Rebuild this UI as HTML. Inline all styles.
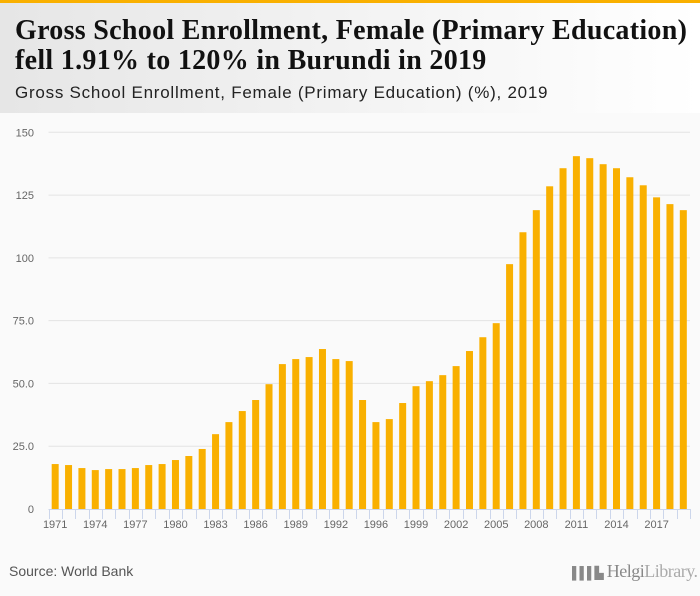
<!DOCTYPE html>
<html><head><meta charset="utf-8"><style>
html,body{margin:0;padding:0;width:700px;height:596px;overflow:hidden;background:#fafafa;font-family:"Liberation Sans",sans-serif}
#topbar{position:absolute;left:0;top:0;width:700px;height:3px;background:#f9b000}
#header{position:absolute;left:0;top:3px;width:700px;height:110px;background:linear-gradient(90deg,#e6e6e6 0%,#f4f4f4 55%,#ffffff 100%)}
#title{position:absolute;left:15px;top:13px;font-family:"Liberation Serif",serif;font-weight:bold;font-size:28px;line-height:30px;color:#111;letter-spacing:0.3px;white-space:nowrap}
#subtitle{position:absolute;left:15px;top:80px;font-size:17px;color:#222;letter-spacing:0.75px;white-space:nowrap}
#source{position:absolute;left:9px;top:563px;font-size:14px;color:#555}
#logo{position:absolute;left:572px;top:561px;font-family:"Liberation Serif",serif;font-size:18px;color:#888;letter-spacing:-0.5px;white-space:nowrap}
</style></head><body>
<div id="topbar"></div>
<div id="header">
<div id="title">Gross School Enrollment, Female (Primary Education)<br>fell 1.91% to 120% in Burundi in 2019</div>
<div id="subtitle">Gross School Enrollment, Female (Primary Education) (%), 2019</div>
</div>
<svg id="chart" width="700" height="596" style="position:absolute;left:0;top:0"></svg>
<div id="source">Source: World Bank</div>
<div id="logo"><span style="font-size:12px;letter-spacing:-1px">▌▌▌▙</span> Helgi<span style="color:#aaa">Library.</span></div>
<script>
const years=[1971,1972,1973,1974,1975,1976,1977,1978,1979,1980,1981,1982,1983,1984,1985,1986,1987,1988,1989,1990,1991,1992,1993,1994,1996,1997,1998,1999,2000,2001,2002,2003,2004,2005,2006,2007,2008,2009,2010,2011,2012,2013,2014,2015,2016,2017,2018,2019];
const values=[17.9,17.5,16.3,15.5,15.9,15.9,16.3,17.5,17.9,19.5,21.1,23.9,29.8,34.6,39.0,43.4,49.7,57.7,59.7,60.5,63.7,59.7,58.9,43.4,34.6,35.8,42.2,48.9,50.9,53.3,56.9,62.9,68.4,74.0,97.5,110.2,119.0,128.5,135.7,140.5,139.7,137.3,135.7,132.1,128.9,124.1,121.4,119.0];
const yTicks=[0,25,50,75,100,125,150];
const yTickLabels=["0","25.0","50.0","75.0","100","125","150"];
const xLabelEvery=3;
const NS="http://www.w3.org/2000/svg";
const svg=document.getElementById('chart');
const x0=48.5,x1=690,yBase=509,yTop=132.3,yMax=150;
const slot=(x1-x0)/years.length;
function yScale(v){return yBase-(v/yMax)*(yBase-yTop);}
function xCenter(i){return x0+slot*(i+0.5);}
function mk(t,a){const e=document.createElementNS(NS,t);for(const k in a)e.setAttribute(k,a[k]);svg.appendChild(e);return e;}
yTicks.forEach((t,i)=>{
  if(t>0){const g=mk('line',{x1:x0,x2:x1,y1:yScale(t),y2:yScale(t),stroke:'#e3e3e3','stroke-width':1});
  
  }
  const l=mk('text',{x:34,y:yScale(t)+4,'text-anchor':'end','font-size':11,fill:'#666','font-family':'Liberation Sans, sans-serif'});
  l.textContent=yTickLabels[i];
  
  
});
values.forEach((v,i)=>{
  const b=mk('rect',{x:xCenter(i)-3.5,y:yScale(v),width:7,height:yBase-yScale(v),fill:'#f9b000'});
  
  
});
const ax=mk('line',{x1:x0,x2:x1,y1:yBase+0.5,y2:yBase+0.5,stroke:'#ccd6eb','stroke-width':1});


for(let i=0;i<=years.length;i++){
  const tx=Math.round(x0+slot*i)+0.5;
  const tk=mk('line',{x1:tx,x2:tx,y1:yBase,y2:yBase+10,stroke:'#ccd6eb','stroke-width':1});
  
  
}
years.forEach((y,i)=>{
  if(i%xLabelEvery!==0)return;
  const l=mk('text',{x:xCenter(i),y:yBase+19,'text-anchor':'middle','font-size':11,fill:'#666','font-family':'Liberation Sans, sans-serif'});
  l.textContent=y;
  
  
});
</script>
</body></html>
